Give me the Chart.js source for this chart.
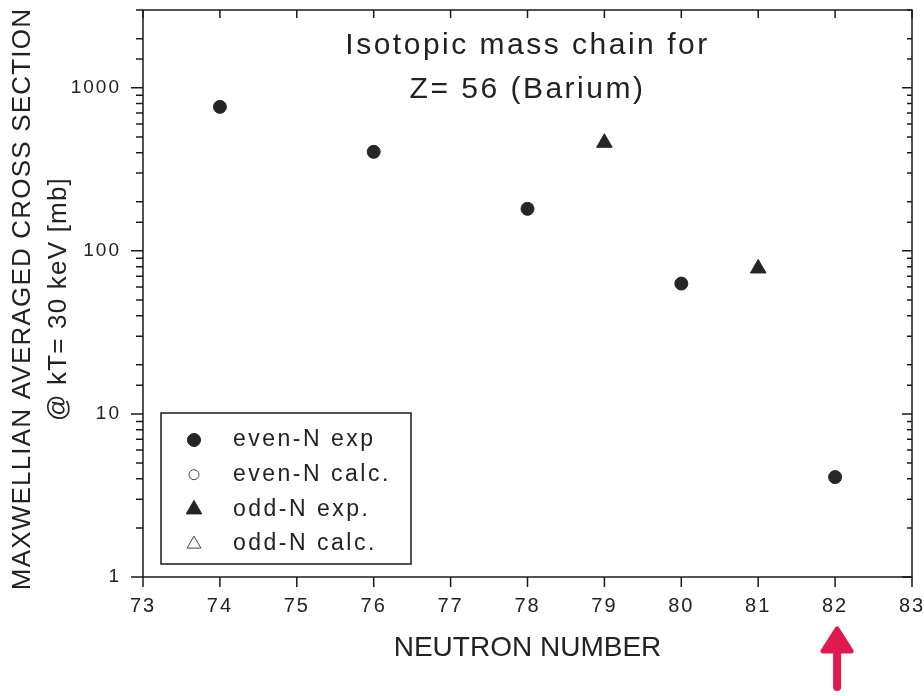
<!DOCTYPE html>
<html>
<head>
<meta charset="utf-8">
<script src="https://cdn.jsdelivr.net/npm/chart.js@4/dist/chart.umd.min.js"></script>
<style>
  body { margin: 0; background: #fff; }
  canvas { display: block; }
</style>
</head>
<body>
<canvas id="baChart" width="924" height="696"></canvas>
<script>
// values
const evenN = [74, 76, 78, 80, 82];
const evenExp = [764, 405, 181, 63, 4.1];
const oddN = [79, 81];
const oddExp = [460, 78];

const yTickLabels = [1, 10, 100, 1000];
const titleLines = ['Isotopic mass chain for', 'Z= 56 (Barium)'];
const yTitleLines = ['MAXWELLIAN AVERAGED CROSS SECTION', '@ kT= 30 keV [mb]'];
const xTitle = 'NEUTRON NUMBER';

const FONT = "'Liberation Sans', Arial, sans-serif";
const INK = '#222';

function toPoints(xs, ys) {
    return xs.map((x, i) => ({ x: x, y: ys[i] }));
}

// frame, inward/outward ticks, title, legend box, axis titles, red arrow
const decorations = {
    id: 'decorations',
    beforeDraw(chart) {
        chart.ctx.letterSpacing = '2px'; // tick labels look widely spaced
    },
    afterDraw(chart) {
        const ctx = chart.ctx;
        const { left, right, top, bottom } = chart.chartArea;
        const xs = chart.scales.x;
        const ys = chart.scales.y;
        ctx.save();
        ctx.letterSpacing = '0px';
        ctx.strokeStyle = '#1a1a1a';
        ctx.lineWidth = 1.5;
        ctx.strokeRect(left, top, right - left, bottom - top);

        ctx.beginPath();
        xs.ticks.forEach(t => {
            const px = xs.getPixelForValue(t.value);
            ctx.moveTo(px, top); ctx.lineTo(px, top + 8);
            ctx.moveTo(px, bottom); ctx.lineTo(px, bottom + 10);
        });
        ys.ticks.forEach(t => {
            const py = ys.getPixelForValue(t.value);
            const major = yTickLabels.includes(t.value);
            ctx.moveTo(left - (major ? 12 : 7), py); ctx.lineTo(left, py);
            ctx.moveTo(right - (major ? 10 : 5), py); ctx.lineTo(right, py);
        });
        ctx.stroke();

        // title inside the plot
        ctx.fillStyle = INK;
        ctx.font = '30px ' + FONT;
        ctx.letterSpacing = '2.5px';
        ctx.textAlign = 'center';
        ctx.textBaseline = 'alphabetic';
        const cx = xs.getPixelForValue(78);
        ctx.fillText(titleLines[0], cx, top + 44);
        ctx.fillText(titleLines[1], cx, top + 88);

        // legend
        const bx = left + 18, by = bottom - 164, bw = 250, bh = 151;
        ctx.lineWidth = 1.5;
        ctx.strokeRect(bx, by, bw, bh);
        ctx.font = '23px ' + FONT;
        ctx.textAlign = 'left';
        ctx.textBaseline = 'middle';
        chart.data.datasets.forEach((ds, i) => {
            const ry = by + 27 + i * 34.7;
            ctx.fillStyle = ds.backgroundColor;
            ctx.strokeStyle = ds.borderColor;
            ctx.lineWidth = ds.borderWidth;
            Chart.helpers.drawPoint(ctx, {
                pointStyle: ds.pointStyle, radius: ds.pointRadius,
                rotation: 0, borderWidth: ds.borderWidth
            }, bx + 33, ry);
            ctx.fillStyle = INK;
            ctx.fillText(ds.label, bx + 72, ry);
        });

        // axis titles
        ctx.letterSpacing = '0px';
        ctx.textAlign = 'center';
        ctx.font = '28px ' + FONT;
        ctx.fillText(xTitle, (left + right) / 2, 648);
        ctx.font = '26px ' + FONT;
        ctx.letterSpacing = '1.2px';
        ctx.save();
        ctx.translate(0, 299);
        ctx.rotate(-Math.PI / 2);
        ctx.fillText(yTitleLines[0], 0, 23);
        ctx.fillText(yTitleLines[1], 0, 59);
        ctx.restore();

        // hand-drawn red arrow under N = 82
        const ax = xs.getPixelForValue(82) + 2;
        ctx.strokeStyle = '#e0194f';
        ctx.fillStyle = '#e0194f';
        ctx.lineCap = 'round';
        ctx.lineJoin = 'round';
        ctx.lineWidth = 8;
        ctx.beginPath();
        ctx.moveTo(ax, 687); ctx.lineTo(ax, 648);
        ctx.stroke();
        ctx.lineWidth = 5;
        ctx.beginPath();
        ctx.moveTo(ax, 629); ctx.lineTo(ax - 14, 651); ctx.lineTo(ax + 14, 651);
        ctx.closePath();
        ctx.fill(); ctx.stroke();
        ctx.restore();
    }
};

const ctx = document.getElementById('baChart').getContext('2d');
const baChart = new Chart(ctx, {
    type: 'scatter',
    data: {
        datasets: [{
            label: 'even-N exp',
            data: toPoints(evenN, evenExp),
            pointStyle: 'circle', pointRadius: 6.5,
            backgroundColor: '#262626', borderColor: '#262626', borderWidth: 1
        }, {
            label: 'even-N calc.',
            data: [],
            pointStyle: 'circle', pointRadius: 5,
            backgroundColor: '#fff', borderColor: '#444', borderWidth: 1
        }, {
            label: 'odd-N exp.',
            data: toPoints(oddN, oddExp),
            pointStyle: 'triangle', pointRadius: 9,
            backgroundColor: '#262626', borderColor: '#262626', borderWidth: 1
        }, {
            label: 'odd-N calc.',
            data: [],
            pointStyle: 'triangle', pointRadius: 8,
            backgroundColor: '#fff', borderColor: '#444', borderWidth: 1
        }]
    },
    options: {
        responsive: false,
        animation: false,
        layout: { padding: { left: 0, right: 12, top: 10, bottom: 0 } },
        scales: {
            x: {
                type: 'linear', min: 73, max: 83,
                grid: { display: false, drawTicks: false },
                border: { display: false },
                ticks: { stepSize: 1, padding: 17, color: INK, font: { family: FONT, size: 20 } },
                afterFit(scale) {
                    scale.height = 119;
                    scale.paddingLeft = 0; scale.paddingRight = 0;
                }
            },
            y: {
                type: 'logarithmic', min: 1, max: 3000,
                grid: { display: false, drawTicks: false },
                border: { display: false },
                ticks: {
                    autoSkip: false, padding: 22, color: INK,
                    font: { family: FONT, size: 19 },
                    callback: v => yTickLabels.includes(v) ? String(v) : ''
                },
                afterFit(scale) {
                    scale.width = 143;
                    scale.paddingTop = 0; scale.paddingBottom = 0;
                }
            }
        },
        plugins: {
            legend: { display: false },
            tooltip: { enabled: false }
        }
    },
    plugins: [decorations]
});
</script>
</body>
</html>
